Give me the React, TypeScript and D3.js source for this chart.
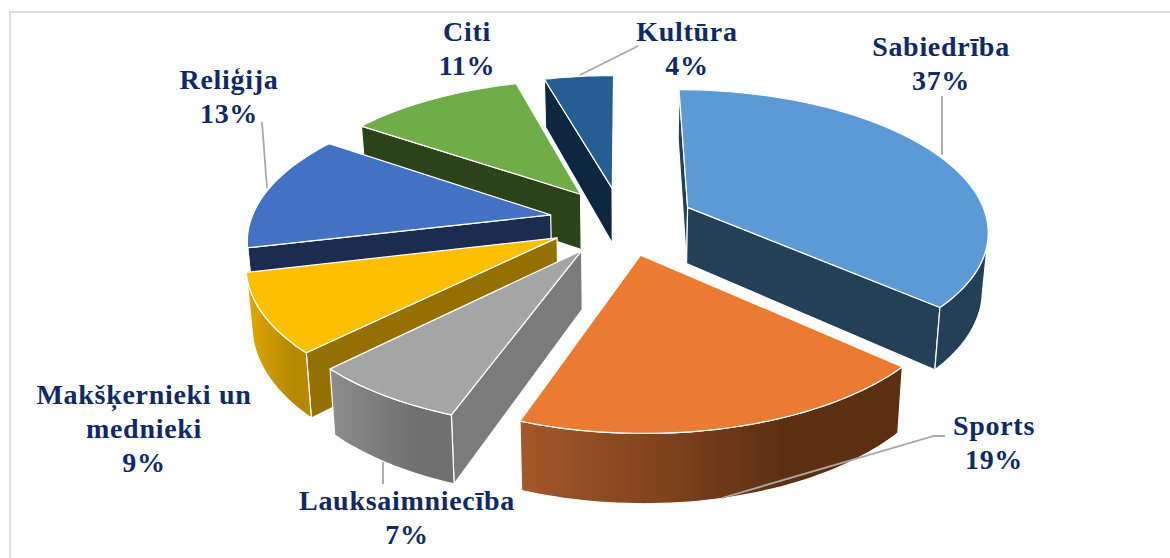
import React from "react";
import * as d3 from "d3";

const categories = ["Sabiedrība", "Sports", "Lauksaimniecība", "Makšķernieki un mednieki", "Reliģija", "Citi", "Kultūra"];
const shares = [36.6, 18.9, 7.0, 8.8, 13.2, 11.1, 4.4];
const topColors = ["#5b9ad5", "#ea7b30", "#a5a5a5", "#fdbf00", "#4371c3", "#70ac47", "#255e91"];
const faceColors = ["#243f58", "#5f3113", "#7b7b7b", "#947000", "#1a2c50", "#2c4219", "#0e2640"];
const wallFrom = ["#243f58", "#a5582a", "#8c8c8c", "#e3a900", "#1a2c50", "#2c4219", "#0e2640"];
const wallTo = ["#243f58", "#5c2f12", "#707070", "#b58800", "#1a2c50", "#2c4219", "#0e2640"];
const labelNames = [["Sabiedrība"], ["Sports"], ["Lauksaimniecība"], ["Makšķernieki un", "mednieki"], ["Reliģija"], ["Citi"], ["Kultūra"]];
const labelAnchors = [[941, 56], [994, 435], [407, 510], [144, 404], [229, 89], [467, 41], [687, 41]];
const leaders = [
  [[942, 96], [942, 155]],
  [[945, 436], [934, 436], [722, 498]],
  [[383, 462], [383, 484]],
  [],
  [[262, 122], [267, 188]],
  [],
  [[638, 46], [580, 75]],
];
const drawOrder = [6, 5, 0, 4, 3, 2, 1];

const cx = 622, groundY = 221, radius = 300, explode = 73;
const focal = 1964, horizon = 913, depth = 57, taper = 0.016;

function project(x: number, y: number, z: number): [number, number] {
  const s = focal / (focal + y);
  return [cx + x * s * (1 - taper * z), groundY - horizon + horizon * s + depth * z * s];
}

export default function App() {
  const arcs = d3.pie<number>().sort(null)(shares);
  const line = d3.line<[number, number]>();
  const slices = arcs.map((a, i) => {
    const mid = (a.startAngle + a.endAngle) / 2;
    const ox = explode * Math.sin(mid), oy = explode * Math.cos(mid);
    const n = Math.max(8, Math.round((a.endAngle - a.startAngle) * 40));
    const angles = d3.range(n + 1).map((j) => a.startAngle + ((a.endAngle - a.startAngle) * j) / n);
    const at = (t: number, z: number) => project(ox + radius * Math.sin(t), oy + radius * Math.cos(t), z);
    const apex = (z: number) => project(ox, oy, z);
    const top = angles.map((t) => at(t, 0));
    const front = angles.filter((t) => {
      const px = ox + radius * Math.sin(t), py = oy + radius * Math.cos(t);
      return -px * Math.sin(t) + (-focal - py) * Math.cos(t) > 0;
    });
    const startPoly = [apex(0), at(a.startAngle, 0), at(a.startAngle, 1), apex(1)];
    const endPoly = [apex(0), at(a.endAngle, 0), at(a.endAngle, 1), apex(1)];
    return {
      i,
      top: line([apex(0), ...top])! + "Z",
      wall: front.length > 1
        ? line([...front.map((t) => at(t, 0)), ...front.slice().reverse().map((t) => at(t, 1))])! + "Z"
        : null,
      startFace: d3.polygonArea(startPoly) > 0 ? line(startPoly)! + "Z" : null,
      endFace: d3.polygonArea(endPoly) < 0 ? line(endPoly)! + "Z" : null,
    };
  });
  const edge = { stroke: "#ffffff", strokeWidth: 1.2, strokeLinejoin: "round" as const };
  return (
    <svg width={1170} height={558} style={{ position: "absolute", left: 0, top: 0, background: "#fff" }}>
      <defs>
        {categories.map((c, i) => (
          <linearGradient key={c} id={`wall${i}`} x1="0" x2="1" y1="0" y2="0">
            <stop offset="0" stopColor={wallFrom[i]} />
            <stop offset="0.7" stopColor={wallTo[i]} />
          </linearGradient>
        ))}
      </defs>
      <path d="M10 558V12H1170" fill="none" stroke="#dedede" strokeWidth={2} />
      {drawOrder.map((i) => {
        const s = slices[i];
        return (
          <g key={categories[i]}>
            {s.startFace && <path d={s.startFace} fill={faceColors[i]} {...edge} />}
            {s.endFace && <path d={s.endFace} fill={faceColors[i]} {...edge} />}
            {s.wall && <path d={s.wall} fill={`url(#wall${i})`} {...edge} />}
            <path d={s.top} fill={topColors[i]} {...edge} />
          </g>
        );
      })}
      {leaders.map((pts, i) =>
        pts.length ? (
          <path key={i} d={line(pts as [number, number][])!} fill="none" stroke="#a9a9a9" strokeWidth={1.8} />
        ) : null
      )}
      {labelNames.map((names, i) => (
        <text key={i} textAnchor="middle" fontFamily="'Liberation Serif', serif" fontWeight="bold" fontSize={28} letterSpacing={0.7} fill="#0f2a66">
          {[...names, `${Math.round(shares[i])}%`].map((t, j) => (
            <tspan key={j} x={labelAnchors[i][0]} y={labelAnchors[i][1] + j * 34.2}>{t}</tspan>
          ))}
        </text>
      ))}
    </svg>
  );
}
